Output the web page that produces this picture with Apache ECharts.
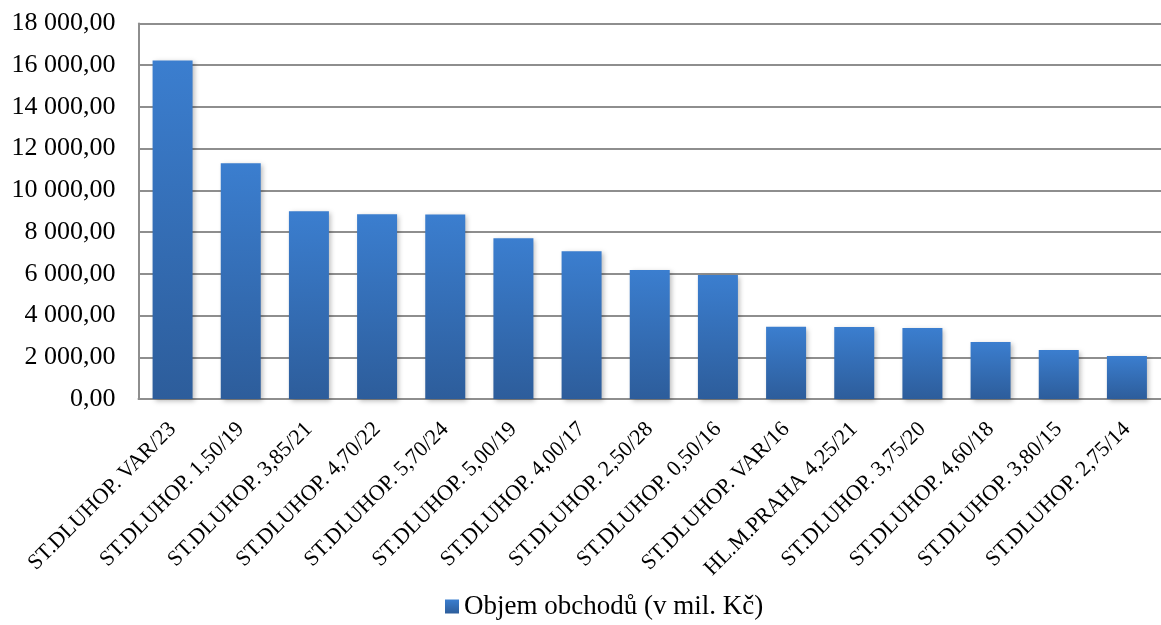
<!DOCTYPE html>
<html>
<head>
<meta charset="utf-8">
<script src="https://cdn.jsdelivr.net/npm/echarts@6/dist/echarts.min.js"></script>
<style>
  html, body { margin: 0; padding: 0; background: #ffffff; }
  #chart { width: 1161px; height: 625px; }
</style>
</head>
<body>
<div id="chart"></div>
<script>
// Bond names (categories)
const categories = [
  'ST.DLUHOP. VAR/23',
  'ST.DLUHOP. 1,50/19',
  'ST.DLUHOP. 3,85/21',
  'ST.DLUHOP. 4,70/22',
  'ST.DLUHOP. 5,70/24',
  'ST.DLUHOP. 5,00/19',
  'ST.DLUHOP. 4,00/17',
  'ST.DLUHOP. 2,50/28',
  'ST.DLUHOP. 0,50/16',
  'ST.DLUHOP. VAR/16',
  'HL.M.PRAHA 4,25/21',
  'ST.DLUHOP. 3,75/20',
  'ST.DLUHOP. 4,60/18',
  'ST.DLUHOP. 3,80/15',
  'ST.DLUHOP. 2,75/14'
];

// Trading volume, millions CZK
const volumes = [16230, 11300, 9000, 8860, 8850, 7700, 7080, 6180, 5940, 3460, 3450, 3400, 2730, 2350, 2060];

const seriesName = 'Objem obchodů (v mil. Kč)';

// Y axis range
const yMin = 0;
const yMax = 18000;
const yStep = 2000;

const serif = '"Liberation Serif", "Times New Roman", serif';

function fmtCz(v) {
  const fixed = v.toFixed(2);
  const parts = fixed.split('.');
  const intPart = parts[0].replace(/\B(?=(\d{3})+(?!\d))/g, ' ');
  return intPart + ',' + parts[1];
}

const barGradient = new echarts.graphic.LinearGradient(0, 0, 0, 1, [
  { offset: 0, color: '#3b7ecf' },
  { offset: 1, color: '#2d5d9b' }
]);

const gridColor = '#8e8e8e';

const chart = echarts.init(document.getElementById('chart'), null, { renderer: 'canvas' });
chart.setOption({
  animation: false,
  backgroundColor: '#ffffff',
  grid: {
    left: 138.5,
    top: 23.5,
    width: 1033,
    bottom: 226,
    containLabel: false
  },
  legend: {
    data: [seriesName],
    bottom: 0,
    left: 440,
    icon: 'rect',
    itemWidth: 14,
    itemHeight: 14,
    itemGap: 4,
    textStyle: { fontFamily: serif, fontSize: 27, color: '#000' }
  },
  xAxis: {
    type: 'category',
    data: categories,
    axisLine: { show: true, lineStyle: { color: gridColor, width: 2 } },
    axisTick: { show: false },
    axisLabel: {
      rotate: 45,
      interval: 0,
      margin: 27,
      fontFamily: serif,
      fontSize: 22,
      color: '#000'
    }
  },
  yAxis: {
    type: 'value',
    min: yMin,
    max: yMax,
    interval: yStep,
    axisLine: { show: true, lineStyle: { color: gridColor, width: 2 } },
    axisTick: { show: false },
    splitLine: { show: true, lineStyle: { color: gridColor, width: 2 } },
    axisLabel: {
      margin: 23,
      fontFamily: serif,
      fontSize: 26,
      color: '#000',
      formatter: fmtCz
    }
  },
  series: [{
    name: seriesName,
    type: 'bar',
    data: volumes,
    barWidth: 40,
    itemStyle: {
      color: barGradient,
      shadowColor: 'rgba(0,0,0,0.28)',
      shadowBlur: 5,
      shadowOffsetX: 2,
      shadowOffsetY: 2
    }
  }]
});
</script>
</body>
</html>
